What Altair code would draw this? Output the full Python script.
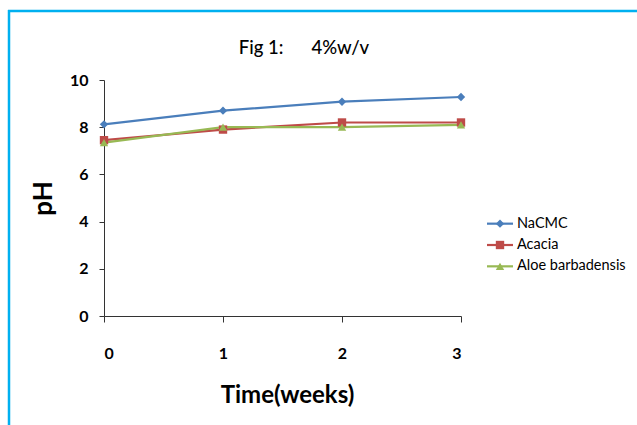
import altair as alt
import pandas as pd

weeks = [0, 1, 2, 3]
series_names = ["NaCMC", "Acacia", "Aloe barbadensis"]
nacmc = [8.12, 8.70, 9.08, 9.28]
acacia = [7.45, 7.90, 8.20, 8.20]
aloe = [7.35, 8.00, 8.00, 8.10]
colors = ["#4a7ebb", "#be4b48", "#98b954"]
shapes = ["diamond", "square", "triangle-up"]
x_ticks = [0, 1, 2, 3]
y_ticks = [0, 2, 4, 6, 8, 10]
title_text = ["Fig 1:\u00a0\u00a0\u00a0\u00a0\u00a0\u00a04%w/v"]

rows = []
for name, vals in zip(series_names, [nacmc, acacia, aloe]):
    for w, v in zip(weeks, vals):
        rows.append({"week": w, "pH": v, "series": name})
df = pd.DataFrame(rows)
legend_df = pd.DataFrame({"series": series_names})
frame_df = pd.DataFrame({"k": [0]})
title_df = pd.DataFrame({"t": title_text})

FONT = "Lato"
color_scale = alt.Scale(domain=series_names, range=colors)
shape_scale = alt.Scale(domain=series_names, range=shapes)
x_scale = alt.Scale(domain=[0, 3], nice=False, zero=False)
y_scale = alt.Scale(domain=[0, 10], nice=False)

x_axis = alt.Axis(values=x_ticks, format="d", title="Time(weeks)", grid=False,
                  domainColor="#333333", tickColor="#333333", tickSize=6,
                  labelPadding=23, labelFont=FONT, labelFontSize=16,
                  labelFontWeight="bold", labelColor="black", labelAngle=0,
                  titleFont=FONT, titleFontSize=24, titleFontWeight="bold",
                  titleColor="black", titleX=183, titleY=79,
                  titleAlign="center", titleBaseline="middle")
y_axis = alt.Axis(values=y_ticks, title="pH", grid=False,
                  domainColor="#333333", tickColor="#333333", tickSize=5,
                  labelPadding=11, labelFont=FONT, labelFontSize=16,
                  labelFontWeight="bold", labelColor="black",
                  titleFont=FONT, titleFontSize=26, titleFontWeight="bold",
                  titleColor="black", titleX=-61, titleY=118,
                  titleAlign="center", titleBaseline="middle")

line = alt.Chart(df).mark_line(strokeWidth=2.2).encode(
    x=alt.X("week:Q", scale=x_scale, axis=x_axis),
    y=alt.Y("pH:Q", scale=y_scale, axis=y_axis),
    color=alt.Color("series:N", scale=color_scale, legend=None),
)
points = alt.Chart(df).mark_point(filled=True, size=70, opacity=1).encode(
    x=alt.X("week:Q", scale=x_scale, axis=x_axis),
    y=alt.Y("pH:Q", scale=y_scale, axis=None),
    color=alt.Color("series:N", scale=color_scale, legend=None),
    shape=alt.Shape("series:N", scale=shape_scale, legend=None),
)

leg_y = alt.Y("series:N", sort=series_names,
              scale=alt.Scale(type="point", domain=series_names, range=[133, 197]),
              axis=None)
leg_rule = alt.Chart(legend_df).mark_rule(strokeWidth=2.2).encode(
    x=alt.value(383), x2=alt.value(409), y=leg_y,
    color=alt.Color("series:N", scale=color_scale, legend=None),
)
leg_pt = alt.Chart(legend_df).mark_point(filled=True, size=70, opacity=1).encode(
    x=alt.value(396), y=leg_y,
    color=alt.Color("series:N", scale=color_scale, legend=None),
    shape=alt.Shape("series:N", scale=shape_scale, legend=None),
)
leg_text = alt.Chart(legend_df).mark_text(align="left", baseline="middle",
                                          font=FONT, fontSize=14.5, color="black").encode(
    x=alt.value(413), y=leg_y, text="series:N",
)

title_mark = alt.Chart(title_df).mark_text(align="center", baseline="alphabetic",
                                           font=FONT, fontSize=18.5, fontWeight=500,
                                           color="black").encode(
    x=alt.value(200), y=alt.value(-26), text="t:N",
)

frame_v = alt.Chart(frame_df).mark_rule(color="#00b0f0", strokeWidth=2.5).encode(
    x=alt.value(-95), y=alt.value(-70), y2=alt.value(345))
frame_h = alt.Chart(frame_df).mark_rule(color="#00b0f0", strokeWidth=2.5).encode(
    x=alt.value(-96), x2=alt.value(533), y=alt.value(-69))

chart = alt.layer(line, points, leg_rule, leg_pt, leg_text, title_mark,
                  frame_v, frame_h).resolve_scale(
    y="independent"
).properties(
    width=357, height=236,
    autosize=alt.AutoSizeParams(type="none"),
    padding={"left": 104, "top": 80, "right": 176, "bottom": 109},
    background="white",
).configure_view(stroke=None)

chart.save("out.html", embed_options={"renderer": "svg", "actions": False})
